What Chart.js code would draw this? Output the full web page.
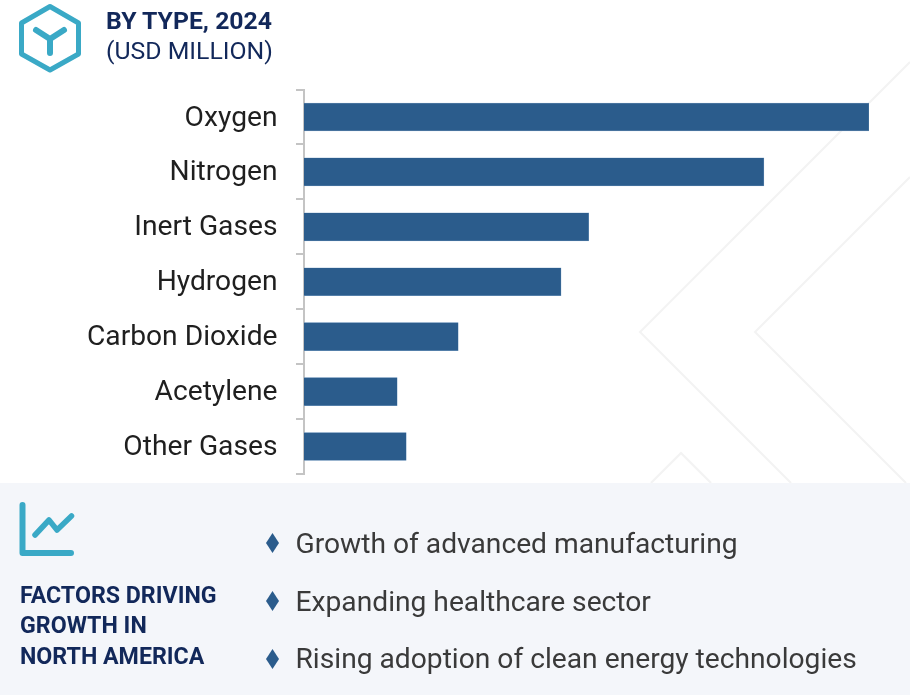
<!DOCTYPE html>
<html>
<head>
<meta charset="utf-8">
<script src="https://cdn.jsdelivr.net/npm/chart.js@4"></script>
<style>
html, body { margin: 0; padding: 0; background: #fff; }
body { position: relative; width: 910px; height: 695px; overflow: hidden; font-family: Roboto, sans-serif; }
#bg, #chartBox, .panel, .txt, .icon { position: absolute; }
#bg { left: 0; top: 0; }
#chartBox { left: 0; top: 0; width: 910px; height: 695px; }
.panel { left: 0; top: 483px; width: 910px; height: 212px; background: #f4f6fa; }
.txt { white-space: nowrap; }
.title { left: 106px; top: 5.5px; font-size: 24.8px; line-height: 29px; font-weight: 700; color: #12285a; }
.unit { left: 106px; top: 36px; font-size: 24.8px; line-height: 29px; color: #12285a; }
.factors { left: 20px; top: 579.5px; font-size: 23.2px; line-height: 30.5px; font-weight: 700; color: #12285a; }
.factor { left: 295.5px; font-size: 28.2px; line-height: 32px; color: #3a3a3a; }
</style>
</head>
<body>
<svg id="bg" width="910" height="483" fill="none" stroke="#f3f3f3" stroke-width="2">
  <polyline points="910,62 640,332 791,483"/>
  <polyline points="910,177 755,332 906,483"/>
  <polyline points="651,483 681,453 711,483"/>
</svg>
<div class="panel"></div>
<div id="chartBox"><canvas id="chart"></canvas></div>
<svg class="icon" style="left:19px;top:3px" width="64" height="70" fill="none" stroke="#3aa9c6">
  <polygon points="31,3.5 59.5,20 59.5,51 31,67 2.5,51 2.5,20" stroke-width="5" stroke-linejoin="round"/>
  <path d="M17 27 L31 36 L45 27 M31 36 L31 50" stroke-width="6" stroke-linecap="round" stroke-linejoin="round"/>
</svg>
<svg class="icon" style="left:18px;top:502px" width="58" height="56" fill="none" stroke="#3aa9c6" stroke-linecap="round" stroke-linejoin="round">
  <path d="M4.5 3 L4.5 51 L53 51" stroke-width="6"/>
  <path d="M17 33 L31 18 L39 28 L53.5 14" stroke-width="5.5"/>
</svg>
<div class="txt title">BY TYPE, 2024</div>
<div class="txt unit">(USD MILLION)</div>
<div class="txt factors">FACTORS DRIVING<br>GROWTH IN<br>NORTH AMERICA</div>
<svg class="icon" style="left:265px;top:532.5px" width="16" height="136" fill="#2b5c8c">
  <polygon points="7.5,0 14,10 7.5,20 1,10"/>
  <polygon points="7.5,58 14,68 7.5,78 1,68"/>
  <polygon points="7.5,116 14,126 7.5,136 1,126"/>
</svg>
<div class="txt factor" style="top:528px">Growth of advanced manufacturing</div>
<div class="txt factor" style="top:585.5px">Expanding healthcare sector</div>
<div class="txt factor" style="top:643px">Rising adoption of clean energy technologies</div>
<script>
// no value axis in the source, so values are relative to Oxygen = 100
const categories = ["Oxygen", "Nitrogen", "Inert Gases", "Hydrogen", "Carbon Dioxide", "Acetylene", "Other Gases"];
const values = [100, 81.4, 50.4, 45.5, 27.3, 16.5, 18.1];
const axisMax = 100;

new Chart(document.getElementById("chart"), {
    type: "bar",
    data: {
        labels: categories,
        datasets: [{
            data: values,
            backgroundColor: "#2b5c8c",
            borderColor: "#7fa3c6",
            borderWidth: 0.5,
            barThickness: 28
        }]
    },
    options: {
        indexAxis: "y",
        responsive: true,
        maintainAspectRatio: false,
        animation: false,
        layout: { padding: { top: 89.5, bottom: 221, right: 41, left: 0 } },
        plugins: { legend: { display: false }, tooltip: { enabled: false } },
        scales: {
            x: { display: false, min: 0, max: axisMax },
            y: {
                afterFit: scale => { scale.width = 304; },
                border: { color: "#c4c4c4", width: 2 },
                grid: { drawOnChartArea: false, drawTicks: true, tickLength: 8, color: "#c4c4c4", lineWidth: 2 },
                ticks: {
                    color: "#1f1f1f",
                    padding: 18.5,
                    // empty first line pushes the label down a little, the labels sit below bar centre
                    callback: (value, i) => ["", categories[i]],
                    font: { family: "Roboto", size: 28.2, lineHeight: "3px" }
                }
            }
        }
    }
});
</script>
</body>
</html>
